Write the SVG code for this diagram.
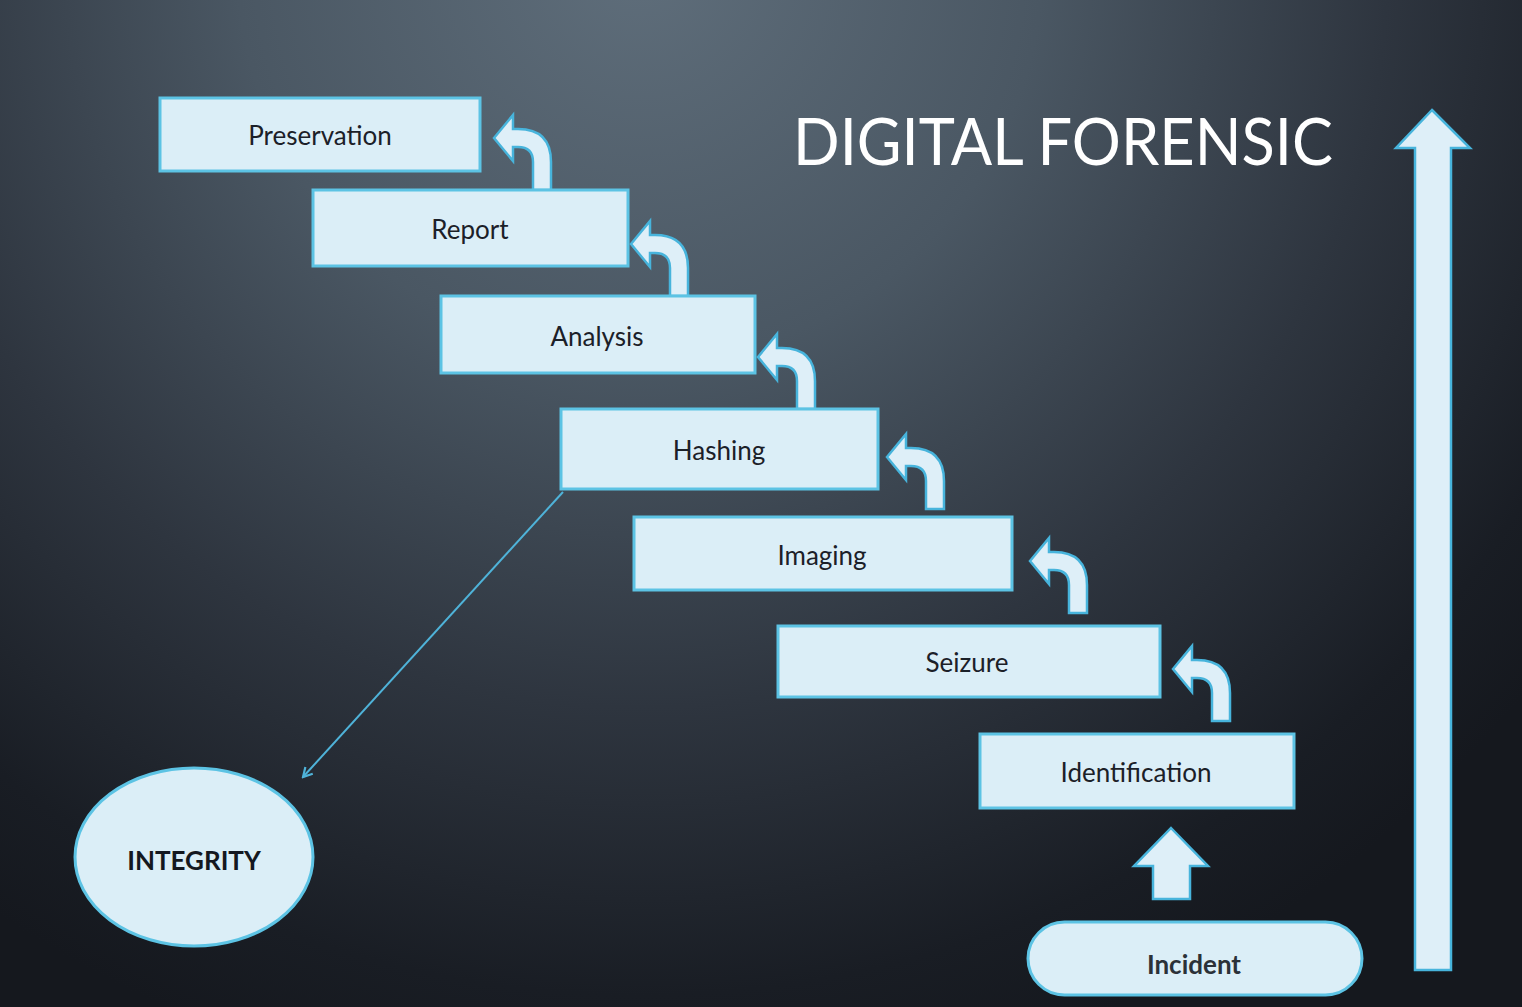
<svg xmlns="http://www.w3.org/2000/svg" width="1522" height="1007" viewBox="0 0 1522 1007">
  <defs>
    <radialGradient id="bg" gradientUnits="userSpaceOnUse" cx="640" cy="-40" r="1150">
      <stop offset="0" stop-color="#5f6e7b"/>
      <stop offset="0.35" stop-color="#4a5763"/>
      <stop offset="0.65" stop-color="#2e353f"/>
      <stop offset="0.9" stop-color="#191d24"/>
      <stop offset="1" stop-color="#15181e"/>
    </radialGradient>
    <!-- left-pointing arrow that bends down into a vertical tail -->
    <path id="bend" d="M0,0 L19,-23 L19,-9 L24,-9 Q57,-9 57,24 L57,52 L39,52 L39,24 Q39,9 24,9 L19,9 L19,23 Z"/>
    <marker id="open" viewBox="0 0 12 12" refX="10" refY="6" markerWidth="12" markerHeight="12" markerUnits="userSpaceOnUse" orient="auto">
      <path d="M1,1 L10,6 L1,11" fill="none" stroke="#4fb3d9" stroke-width="2.2"/>
    </marker>
    <style>
      .box { fill: #dbeef7; stroke: #5cc3e4; stroke-width: 3; }
      .shape { fill: #deeff8; stroke: #47b4dc; stroke-width: 2.5; stroke-linejoin: miter; }
      .lbl { font-family: "Lato", "Noto Sans", "Liberation Sans", sans-serif; font-size: 26px; fill: #1b2028; text-anchor: middle; dominant-baseline: central; }
      .bold { font-weight: bold; fill: #2b3138; }
      .title { font-family: "Lato", "Noto Sans", "Liberation Sans", sans-serif; font-size: 66px; fill: #ffffff; font-weight: 400; }
    </style>
  </defs>

  <rect width="1522" height="1007" fill="url(#bg)"/>

  <text class="title" x="793" y="165" textLength="540" lengthAdjust="spacingAndGlyphs">DIGITAL FORENSIC</text>

  <!-- large progress arrow on the right -->
  <path class="shape" d="M1432,110 L1470,148 L1451,148 L1451,970 L1415,970 L1415,148 L1396,148 Z"/>

  <!-- step arrows -->
  <g id="steps">
    <use href="#bend" class="shape" x="494" y="138"/>
    <use href="#bend" class="shape" x="631" y="244"/>
    <use href="#bend" class="shape" x="758" y="357"/>
    <use href="#bend" class="shape" x="887" y="457"/>
    <use href="#bend" class="shape" x="1030" y="561"/>
    <use href="#bend" class="shape" x="1173" y="669"/>
    <path class="shape" d="M1171,828 L1208,866 L1190,866 L1190,899 L1153,899 L1153,866 L1134,866 Z"/>
  </g>

  <g id="connectors">
    <line x1="563" y1="492" x2="303" y2="777" stroke="#4fb3d9" stroke-width="2" marker-end="url(#open)"/>
  </g>

  <g id="preservation">
    <rect class="box" x="160" y="98" width="320" height="73"/>
    <text class="lbl" x="320" y="135">Preservation</text>
  </g>
  <g id="report">
    <rect class="box" x="313" y="190" width="315" height="76"/>
    <text class="lbl" x="470" y="229">Report</text>
  </g>
  <g id="analysis">
    <rect class="box" x="441" y="296" width="314" height="77"/>
    <text class="lbl" x="597" y="336">Analysis</text>
  </g>
  <g id="hashing">
    <rect class="box" x="561" y="409" width="317" height="80"/>
    <text class="lbl" x="719" y="450">Hashing</text>
  </g>
  <g id="imaging">
    <rect class="box" x="634" y="517" width="378" height="73"/>
    <text class="lbl" x="822" y="555">Imaging</text>
  </g>
  <g id="seizure">
    <rect class="box" x="778" y="626" width="382" height="71"/>
    <text class="lbl" x="967" y="662">Seizure</text>
  </g>
  <g id="identification">
    <rect class="box" x="980" y="734" width="314" height="74"/>
    <text class="lbl" x="1136" y="772">Identification</text>
  </g>
  <g id="incident">
    <rect class="box" x="1028" y="922" width="334" height="73" rx="36.5" ry="36.5"/>
    <text class="lbl bold" x="1194" y="964" font-size="29">Incident</text>
  </g>
  <g id="integrity">
    <ellipse class="box" cx="194" cy="857" rx="119" ry="89"/>
    <text class="lbl bold" x="194" y="860" font-size="24" style="fill:#141820">INTEGRITY</text>
  </g>
</svg>
